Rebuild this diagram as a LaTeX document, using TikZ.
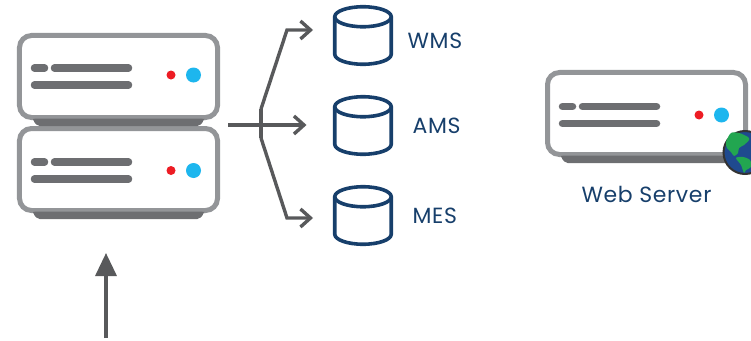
\documentclass[tikz,border=0pt]{standalone}
\usepackage{fontspec}
\setmainfont[LetterSpace=3]{Poppins}
\usetikzlibrary{positioning}
\usetikzlibrary{arrows.meta}
\definecolor{frame}{HTML}{939598}
\definecolor{slotgrey}{HTML}{6D6E71}
\definecolor{led}{HTML}{ED1C24}
\definecolor{lamp}{HTML}{1DB6EE}
\definecolor{navy}{HTML}{173F6B}
\definecolor{flow}{HTML}{58595B}
\definecolor{ocean}{HTML}{1F4A8F}
\definecolor{land}{HTML}{22A650}
\tikzset{
    server/.style={draw=frame, fill=white, line width=1mm, rounded corners=2.4mm, minimum width=39.6mm, minimum height=16.4mm, outer sep=0pt},
    slot/.style={slotgrey, line width=1.5mm, line cap=round},
    db/.style={minimum width=11.3mm, minimum height=11.5mm, inner sep=0pt, outer sep=0pt},
    dbline/.style={navy, line width=0.72mm},
    dblabel/.style={text=navy, font=\fontsize{12.5}{14}\selectfont, inner sep=0pt},
    link/.style={flow, line width=0.68mm, -{Straight Barb[length=2mm, width=3.6mm]}}
}
\newcommand{\serverparts}[3]{
    \begin{scope}[shift={(#1.center)}]
        \fill[slotgrey, rounded corners=1.2] (-85.5,42) -- (-85.5,44) -- (-81,49.5) -- (81,49.5) -- (85.5,44) -- (85.5,42) -- cycle;
        \draw[slot] (-84,#2-8) -- (-74,#2-8);
        \draw[slot] (-64,#2-8) -- (10,#2-8);
        \draw[slot] (-84,#2+9) -- (10,#2+9);
        \fill[led] (52.5,#3-1.5) circle (4.5);
        \fill[lamp] (75,#3-1.5) circle (7.5);
    \end{scope}
}
\newcommand{\dbparts}[1]{
    \begin{scope}[shift={(#1.center)}]
        \draw[dbline] (0,-18.75) ellipse (28.25 and 10);
        \draw[dbline] (-28.25,-18.75) -- (-28.25,18.75) arc (180:0:28.25 and 10) -- (28.25,-18.75);
    \end{scope}
}
\begin{document}
\begin{tikzpicture}[x=0.2mm, y=-0.2mm]
    \useasboundingbox (0,0) rectangle (751,341);

    % servers
    \node[server] (srvA) at (118.5,76.5) {};
    \node[server, below = 2.2mm of srvA] (srvB) {};
    \node[server] (srvC) at (646.5,113.5) {};
    \serverparts{srvA}{-0.5}{0}
    \serverparts{srvB}{0.5}{2.5}
    \serverparts{srvC}{1}{3}

    % globe
    \node[circle, draw=black!80, line width=0.4mm, fill=ocean, minimum size=8.6mm, inner sep=0pt] (globe) at (745,152.5) {};
    \fill[land] plot[smooth cycle] coordinates {(731,133) (739,133) (748,137) (749,140) (744,145) (739,148) (738,153) (734,156) (731,152) (727,148) (726,142)};
    \fill[land] plot[smooth cycle] coordinates {(736,158) (743,157) (750,160) (751,167) (746,170) (744,173) (741,165)};

    % databases
    \node[db] (dbW) at (363,35.5) {};
    \node[db, below = 6.5mm of dbW] (dbA) {};
    \node[db, below = 6.5mm of dbA] (dbM) {};
    \dbparts{dbW}
    \dbparts{dbA}
    \dbparts{dbM}
    \node[dblabel, right = 3.2mm of dbW, yshift=-1mm] (lblW) {WMS};
    \node[dblabel, right = 4.2mm of dbA] (lblA) {AMS};
    \node[dblabel, right = 4.2mm of dbM] (lblM) {MES};
    \node[dblabel, below = 6.2mm of srvC] (lblC) {Web Server};

    % arrows
    \coordinate (in) at (228,125);
    \coordinate (tipA) at (306.5,125);
    \coordinate (jointT) at (261,109);
    \coordinate (jointB) at (261,138);
    \coordinate (elbowT) at (287,30);
    \coordinate (elbowB) at (287,218);
    \coordinate (tipT) at (313,30);
    \coordinate (tipB) at (313,218);
    \coordinate (upS) at (106,338);
    \coordinate (upE) at (106,253);
    \draw[link] (in) -- (tipA);
    \draw[link] (jointT) -- (elbowT) -- (tipT);
    \draw[link] (jointB) -- (elbowB) -- (tipB);
    \draw[flow, line width=0.68mm] (jointT) -- (jointB);
    \draw[flow, line width=0.68mm, -{Triangle[length=4.6mm, width=4.2mm]}] (upS) -- (upE);
\end{tikzpicture}
\end{document}
